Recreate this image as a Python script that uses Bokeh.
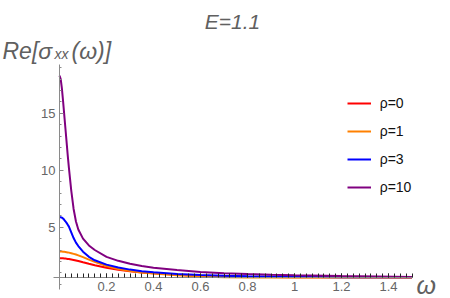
from bokeh.plotting import figure
from bokeh.models import FixedTicker, Label, Legend, LegendItem
from bokeh.embed import file_html
from bokeh.resources import INLINE

# ---- data ----
omega = [0, 0.005, 0.01, 0.015, 0.02, 0.025, 0.03, 0.035, 0.04, 0.05, 0.06, 0.07, 0.08,
         0.1, 0.125, 0.15, 0.2, 0.25, 0.3, 0.35, 0.4, 0.5, 0.6, 0.7, 0.8, 0.9, 1.0, 1.2, 1.5]
sigma_rho0 = [2.28, 2.28, 2.27, 2.27, 2.26, 2.25, 2.24, 2.22, 2.21, 2.17, 2.13, 2.08, 2.03,
              1.92, 1.79, 1.67, 1.45, 1.27, 1.13, 1.03, 0.95, 0.83, 0.75, 0.70, 0.66, 0.64,
              0.62, 0.60, 0.58]
sigma_rho1 = [2.87, 2.87, 2.86, 2.85, 2.84, 2.83, 2.81, 2.79, 2.77, 2.72, 2.66, 2.60, 2.53,
              2.37, 2.16, 1.96, 1.60, 1.33, 1.15, 1.02, 0.93, 0.79, 0.68, 0.62, 0.59, 0.59,
              0.59, 0.59, 0.58]
sigma_rho3 = [5.88, 5.87, 5.84, 5.76, 5.65, 5.52, 5.38, 5.22, 5.05, 4.55, 4.05, 3.65, 3.35,
              2.85, 2.40, 2.10, 1.72, 1.46, 1.28, 1.14, 1.04, 0.90, 0.80, 0.74, 0.70, 0.67,
              0.65, 0.62, 0.60]
sigma_rho10 = [18.3, 18.0, 17.2, 16.1, 14.9, 13.7, 12.5, 11.3, 10.2, 8.2, 6.6, 5.5, 4.8,
               4.0, 3.4, 3.0, 2.4, 2.05, 1.8, 1.6, 1.45, 1.24, 1.08, 0.97, 0.89, 0.83,
               0.78, 0.71, 0.64]
series_labels = ["ρ=0", "ρ=1", "ρ=3", "ρ=10"]
series_colors = ["#ff0000", "#ff8000", "#0000ff", "#800080"]

x_ticks = [0.2, 0.4, 0.6, 0.8, 1.0, 1.2, 1.4]
y_ticks = [5, 10, 15]
y_minor = list(range(0, 20))
x_minor = [round(i * 0.025, 4) for i in range(0, 61)]

title_text = "E=1.1"
xlabel_text = "ω"

p = figure(width=450, height=298, x_range=(-0.2511, 1.6638), y_range=(-1.254, 24.886),
           min_border_left=0, min_border_right=0, min_border_top=0, min_border_bottom=0,
           toolbar_location=None, output_backend="svg")
p.xgrid.visible = False
p.ygrid.visible = False
p.outline_line_color = None
p.background_fill_color = "white"
p.border_fill_color = "white"

axis_gray = "#8a8a8a"
label_gray = "#666666"

# x axis (Mathematica style, crossing at the curve minimum)
p.xaxis.fixed_location = 0.56
p.xaxis.bounds = (-0.026, 1.502)
p.xaxis.ticker = FixedTicker(ticks=x_ticks, minor_ticks=x_minor)
p.xaxis.axis_line_color = axis_gray
p.xaxis.major_tick_in = 4
p.xaxis.major_tick_out = 0
p.xaxis.minor_tick_in = 4
p.xaxis.minor_tick_out = 0
p.xaxis.major_tick_line_color = "#222222"
p.xaxis.minor_tick_line_color = "#222222"
p.xaxis.major_label_text_font = "Liberation Sans"
p.xaxis.major_label_text_font_size = "13px"
p.xaxis.major_label_text_color = label_gray
p.xaxis.major_label_standoff = 4

# y axis
p.yaxis.fixed_location = 0
p.yaxis.bounds = (-0.46, 19.3)
p.yaxis.ticker = FixedTicker(ticks=y_ticks, minor_ticks=y_minor)
p.yaxis.axis_line_color = axis_gray
p.yaxis.major_tick_in = 4
p.yaxis.major_tick_out = 0
p.yaxis.minor_tick_in = 2
p.yaxis.minor_tick_out = 0
p.yaxis.major_tick_line_color = axis_gray
p.yaxis.minor_tick_line_color = axis_gray
p.yaxis.major_label_text_font = "Liberation Sans"
p.yaxis.major_label_text_font_size = "13px"
p.yaxis.major_label_text_color = label_gray
p.yaxis.major_label_standoff = 4

items = []
for ys, lab, col in zip([sigma_rho0, sigma_rho1, sigma_rho3, sigma_rho10],
                        series_labels, series_colors):
    r = p.line(omega, ys, line_color=col, line_width=2)
    items.append(LegendItem(label=lab, renderers=[r]))

legend = Legend(items=items, location=(346.7, 101.3), padding=0, margin=0,
                spacing=8, glyph_width=24, glyph_height=20, label_height=20,
                label_standoff=9, label_text_font="Liberation Sans",
                label_text_font_size="14px", label_text_color="#111111",
                border_line_color=None, background_fill_alpha=0)
p.add_layout(legend, "center")

common = dict(x_units="screen", y_units="screen", text_font="Liberation Sans",
              text_font_style="italic", text_color="#606060", text_baseline="alphabetic")
p.add_layout(Label(x=232, y=277, text=title_text, text_align="center",
                   text_font_size="21px", **common))
p.add_layout(Label(x=2, y=248, text="Re[σ", text_font_size="23px", **common))
p.add_layout(Label(x=54, y=244.5, text="xx", text_font_size="14px", **common))
p.add_layout(Label(x=71, y=248, text="(ω)]", text_font_size="23px", **common))
p.add_layout(Label(x=416, y=14, text=xlabel_text, text_font_size="25px", **common))

open("out.html", "w").write(file_html(p, INLINE))
